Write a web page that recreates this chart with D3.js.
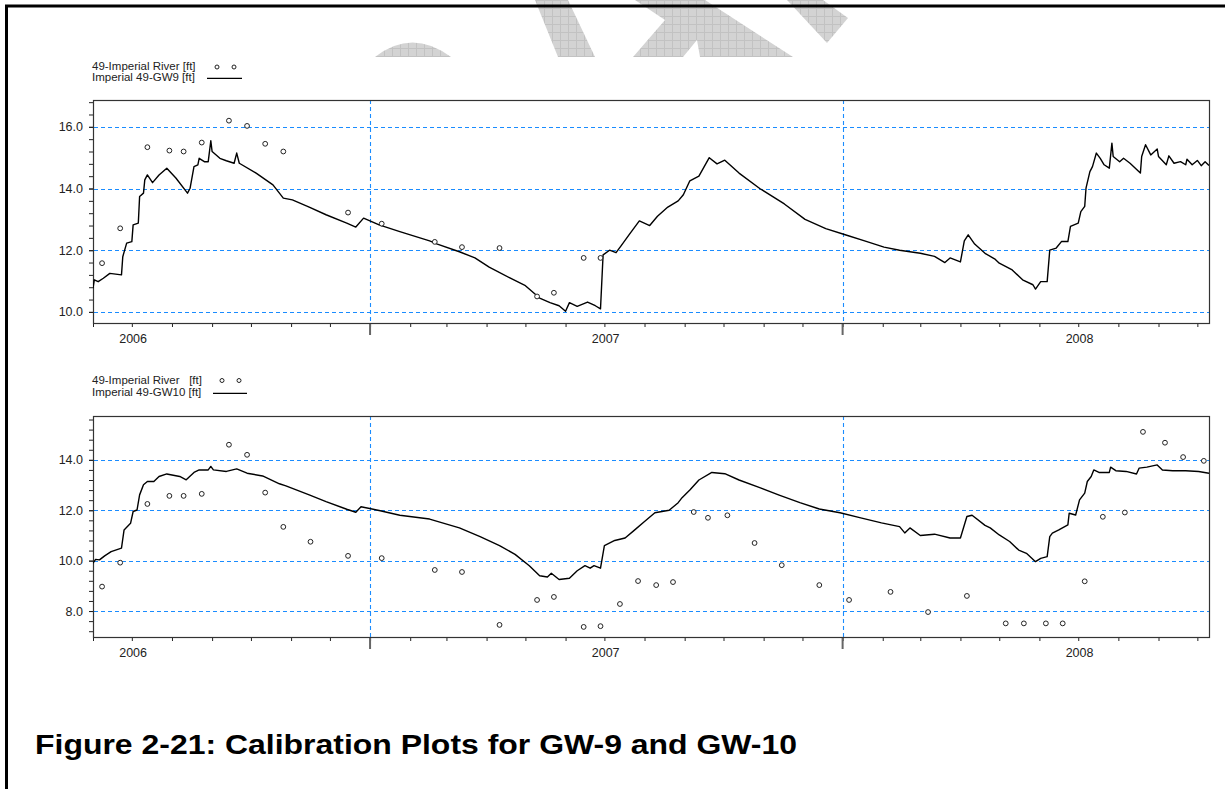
<!DOCTYPE html>
<html>
<head>
<meta charset="utf-8">
<script src="https://cdn.jsdelivr.net/npm/d3@7"></script>
<style>
  body { margin: 0; background: #fff; }
  text { font-family: "Liberation Sans", Arial, sans-serif; }
</style>
</head>
<body>
<div id="chart"></div>
<script>
var parseDate = d3.timeParse("%Y-%m-%d");

// ---- GW9 panel ----
var gw9Dates = ["2006-06-01","2006-06-02","2006-06-05","2006-06-09","2006-06-14","2006-06-23","2006-06-24","2006-06-27",
  "2006-07-01","2006-07-02","2006-07-06","2006-07-07","2006-07-10","2006-07-11","2006-07-13","2006-07-17","2006-07-22","2006-07-28",
  "2006-08-04","2006-08-13","2006-08-15","2006-08-18","2006-08-21","2006-08-22","2006-08-26","2006-08-29","2006-08-31",
  "2006-09-01","2006-09-07","2006-09-12","2006-09-18","2006-09-20","2006-09-22","2006-10-05","2006-10-18","2006-10-26",
  "2006-11-02","2006-11-15","2006-11-28","2006-12-14","2006-12-21","2006-12-27","2007-01-08","2007-01-24","2007-02-16",
  "2007-02-22","2007-03-11","2007-03-23","2007-04-03","2007-04-19","2007-05-01","2007-05-12","2007-05-20","2007-05-27",
  "2007-06-01","2007-06-04","2007-06-10","2007-06-18","2007-06-24","2007-06-28","2007-06-30","2007-07-05","2007-07-10",
  "2007-07-14","2007-07-20","2007-07-28","2007-08-05","2007-08-11","2007-08-19","2007-08-27","2007-08-31","2007-09-05",
  "2007-09-12","2007-09-20","2007-09-26","2007-10-02","2007-10-13","2007-10-29","2007-11-17","2007-12-03","2007-12-19",
  "2008-01-03","2008-01-18","2008-02-02","2008-02-14","2008-03-01","2008-03-12","2008-03-20","2008-03-24","2008-04-01",
  "2008-04-04","2008-04-07","2008-04-12","2008-04-20","2008-04-28","2008-05-01","2008-05-11","2008-05-19","2008-05-27",
  "2008-05-29","2008-06-02","2008-06-07","2008-06-09","2008-06-14","2008-06-18","2008-06-23","2008-06-25","2008-07-01",
  "2008-07-03","2008-07-06","2008-07-07","2008-07-10","2008-07-12","2008-07-15","2008-07-18","2008-07-21","2008-07-25",
  "2008-07-27","2008-07-28","2008-08-02","2008-08-05","2008-08-10","2008-08-18","2008-08-19","2008-08-22","2008-08-26",
  "2008-08-31","2008-09-01","2008-09-07","2008-09-09","2008-09-13","2008-09-18","2008-09-22","2008-09-23","2008-09-27",
  "2008-10-01","2008-10-04","2008-10-07","2008-10-10"];
var gw9Values = [10.77,11.04,10.98,11.09,11.25,11.2,11.79,12.23,
  12.28,12.82,12.88,13.74,13.85,14.28,14.44,14.19,14.44,14.66,
  14.34,13.85,14.01,14.71,14.77,14.98,14.87,14.87,15.55,
  15.2,14.98,14.9,14.82,15.15,14.82,14.5,14.12,13.69,
  13.63,13.4,13.15,12.88,12.75,13.04,12.82,12.6,12.3,
  12.2,11.95,11.75,11.45,11.1,10.85,10.45,10.3,10.2,
  10.02,10.3,10.18,10.32,10.2,10.1,11.85,12.0,11.92,
  12.15,12.5,12.95,12.8,13.1,13.4,13.6,13.8,14.25,
  14.4,15.0,14.8,14.92,14.5,14.0,13.5,13.0,12.7,
  12.5,12.3,12.1,12.0,11.9,11.8,11.6,11.75,11.62,
  12.3,12.5,12.2,11.9,11.7,11.58,11.36,11.04,10.88,
  10.74,10.98,10.98,12.0,12.07,12.28,12.28,12.77,12.88,
  13.25,13.42,14.01,14.55,14.71,15.15,14.98,14.77,14.66,
  15.47,15.04,14.87,14.98,14.82,14.5,15.04,15.42,15.09,
  15.28,15.04,14.77,15.06,14.82,14.87,14.77,14.95,14.77,
  14.91,14.74,14.87,14.75];
var obs9Dates = ["2006-06-08","2006-06-22","2006-07-13","2006-07-30","2006-08-10","2006-08-24","2006-09-14","2006-09-28",
  "2006-10-12","2006-10-26","2006-12-15","2007-01-10","2007-02-20","2007-03-13","2007-04-11","2007-05-10","2007-05-23",
  "2007-06-15","2007-06-28"];
var obs9Values = [11.58,12.71,15.34,15.23,15.2,15.49,16.2,16.03,
  15.45,15.2,13.22,12.86,12.27,12.1,12.07,10.5,10.62,
  11.75,11.75];

// ---- GW10 panel ----
var gw10Dates = ["2006-06-01","2006-06-03","2006-06-06","2006-06-10","2006-06-15","2006-06-23","2006-06-25","2006-06-30",
  "2006-07-02","2006-07-05","2006-07-07","2006-07-10","2006-07-13","2006-07-18","2006-07-22","2006-07-28","2006-08-07",
  "2006-08-12","2006-08-18","2006-08-22","2006-08-29","2006-08-31","2006-09-02","2006-09-12","2006-09-20","2006-09-28",
  "2006-10-10","2006-10-23","2006-10-28","2006-11-15","2006-11-28","2006-12-14","2006-12-21","2006-12-25","2007-01-08",
  "2007-01-24","2007-02-16","2007-03-11","2007-03-27","2007-04-11","2007-04-23","2007-05-04","2007-05-12","2007-05-18",
  "2007-05-21","2007-05-27","2007-06-04","2007-06-10","2007-06-16","2007-06-20","2007-06-23","2007-06-28","2007-07-01",
  "2007-07-09","2007-07-17","2007-07-24","2007-08-01","2007-08-09","2007-08-20","2007-08-27","2007-08-30","2007-09-05",
  "2007-09-12","2007-09-22","2007-10-02","2007-10-13","2007-10-29","2007-11-13","2007-11-29","2007-12-14","2007-12-30",
  "2008-01-15","2008-01-31","2008-02-14","2008-02-18","2008-02-22","2008-03-01","2008-03-12","2008-03-24","2008-04-01",
  "2008-04-06","2008-04-10","2008-04-20","2008-04-24","2008-05-01","2008-05-09","2008-05-16","2008-05-22","2008-05-29",
  "2008-06-02","2008-06-07","2008-06-09","2008-06-11","2008-06-16","2008-06-23","2008-06-24","2008-06-29","2008-07-02",
  "2008-07-06","2008-07-08","2008-07-11","2008-07-13","2008-07-17","2008-07-25","2008-07-26","2008-07-30","2008-08-07",
  "2008-08-15","2008-08-17","2008-08-23","2008-08-31","2008-09-04","2008-09-12","2008-09-22","2008-10-02","2008-10-10"];
var gw10Values = [9.9,10.05,10.03,10.19,10.36,10.5,11.22,11.48,
  11.95,12.01,12.61,13.01,13.14,13.14,13.34,13.44,13.34,
  13.21,13.5,13.6,13.6,13.74,13.6,13.54,13.64,13.47,
  13.36,13.05,12.97,12.61,12.34,12.04,11.92,12.14,11.99,
  11.8,11.65,11.3,10.95,10.6,10.25,9.8,9.4,9.35,
  9.5,9.25,9.3,9.6,9.8,9.7,9.8,9.7,10.6,
  10.8,10.9,11.2,11.55,11.9,12.0,12.3,12.5,12.8,
  13.2,13.5,13.45,13.2,12.9,12.6,12.3,12.05,11.9,
  11.7,11.5,11.35,11.1,11.3,11.0,11.05,10.9,10.9,
  11.75,11.8,11.4,11.3,11.02,10.76,10.42,10.29,9.96,
  10.09,10.16,10.95,11.09,11.22,11.42,11.88,11.81,12.41,
  12.68,13.14,13.34,13.6,13.5,13.5,13.71,13.57,13.54,
  13.44,13.67,13.71,13.8,13.6,13.57,13.57,13.54,13.47];
var obs10Dates = ["2006-06-08","2006-06-22","2006-07-13","2006-07-30","2006-08-10","2006-08-24","2006-09-14","2006-09-28",
  "2006-10-12","2006-10-26","2006-11-16","2006-12-15","2007-01-10","2007-02-20","2007-03-13","2007-04-11","2007-05-10",
  "2007-05-23","2007-06-15","2007-06-28","2007-07-13","2007-07-27","2007-08-10","2007-08-23","2007-09-08","2007-09-19",
  "2007-10-04","2007-10-25","2007-11-15","2007-12-14","2008-01-06","2008-02-07","2008-03-07","2008-04-06","2008-05-06",
  "2008-05-20","2008-06-06","2008-06-19","2008-07-06","2008-07-20","2008-08-06","2008-08-20","2008-09-06","2008-09-20",
  "2008-10-06"];
var obs10Values = [8.97,9.92,12.25,12.57,12.57,12.65,14.6,14.2,
  12.7,11.34,10.75,10.19,10.1,9.63,9.55,7.45,8.44,
  8.56,7.37,7.4,8.28,9.19,9.03,9.15,11.93,11.7,
  11.8,10.7,9.82,9.03,8.44,8.76,7.96,8.6,7.51,
  7.51,7.51,7.51,9.18,11.74,11.91,15.11,14.68,14.11,
  13.96];

var yearLabels = ["2006", "2007", "2008"];
var yTicks9 = [10, 12, 14, 16];
var yTicks10 = [8, 10, 12, 14];

var width = 1225, height = 789;
var svg = d3.select("#chart").append("svg")
  .attr("width", width)
  .attr("height", height);

// watermark fragments along the top edge
var defs = svg.append("defs");
var pat = defs.append("pattern")
  .attr("id", "hatch")
  .attr("patternUnits", "userSpaceOnUse")
  .attr("width", 8).attr("height", 8);
pat.append("rect").attr("width", 8).attr("height", 8).attr("fill", "#d3d3d3");
pat.append("path").attr("d", "M0,0.5H8M0.5,0V8").attr("stroke", "#c2c2c2").attr("stroke-width", 1);

var wm = svg.append("g").attr("fill", "url(#hatch)");
wm.append("path").attr("d", "M375,57 Q412,28 451,57 Z");
wm.append("path").attr("d", "M535,0 L568,0 L595,57 L558,57 Z");
wm.append("path").attr("d", "M635,0 L705,0 L793,57 L700,57 L697,40 L683,57 L633,57 L665,20 Z");
wm.append("path").attr("d", "M787,0 L823,0 L848,18 L827,43 Z");

// page frame
svg.append("line").attr("x1", 6.5).attr("x2", 6.5).attr("y1", 5).attr("y2", height)
  .attr("stroke", "#000").attr("stroke-width", 3);
svg.append("line").attr("x1", 5).attr("x2", width).attr("y1", 6).attr("y2", 6)
  .attr("stroke", "#000").attr("stroke-width", 3);

var xScale = d3.scaleTime()
  .domain([parseDate("2006-06-01"), parseDate("2008-10-10")])
  .range([93, 1209]);

function drawPanel(cfg) {
  var y = d3.scaleLinear().domain(cfg.yDomain).range([cfg.bottom, cfg.top]);
  var g = svg.append("g");
  var clipId = "clip" + cfg.id;
  defs.append("clipPath").attr("id", clipId)
    .append("rect")
    .attr("x", 93).attr("y", cfg.top)
    .attr("width", 1209 - 93).attr("height", cfg.bottom - cfg.top);

  // grid
  g.selectAll(".hgrid").data(cfg.yTicks).enter().append("line")
    .attr("x1", 94).attr("x2", 1209)
    .attr("y1", function(d) { return Math.round(y(d)) + 0.5; })
    .attr("y2", function(d) { return Math.round(y(d)) + 0.5; })
    .attr("stroke", "#1a8cff").attr("stroke-width", 1.1).attr("stroke-dasharray", "4,3");
  var years = [parseDate("2007-01-01"), parseDate("2008-01-01")];
  g.selectAll(".vgrid").data(years).enter().append("line")
    .attr("x1", function(d) { return Math.round(xScale(d)) + 0.5; })
    .attr("x2", function(d) { return Math.round(xScale(d)) + 0.5; })
    .attr("y1", cfg.top).attr("y2", cfg.bottom)
    .attr("stroke", "#1a8cff").attr("stroke-width", 1.1).attr("stroke-dasharray", "4,3");

  // month ticks
  var xAxis = d3.axisBottom(xScale)
    .ticks(d3.timeMonth.every(1))
    .tickSize(4)
    .tickFormat("");
  var ax = g.append("g").attr("transform", "translate(0," + cfg.bottom + ")").call(xAxis);
  ax.select(".domain").remove();
  ax.selectAll("line").attr("stroke", "#222");

  // year ticks
  g.selectAll(".yeartick").data(years).enter().append("line")
    .attr("x1", function(d) { return xScale(d); })
    .attr("x2", function(d) { return xScale(d); })
    .attr("y1", cfg.bottom).attr("y2", cfg.bottom + 12)
    .attr("stroke", "#666").attr("stroke-width", 2);

  // year labels centred on each year
  g.selectAll(".yearlabel").data(yearLabels).enter().append("text")
    .attr("x", function(d) { return xScale(parseDate(d + "-07-02")); })
    .attr("y", cfg.bottom + 20)
    .attr("text-anchor", "middle")
    .attr("font-size", "12.5px")
    .attr("fill", "#222")
    .text(function(d) { return d; });

  // y axis: minor ticks every 0.4, labels every 2
  var minor = d3.range(cfg.yTicks[0] - 2, cfg.yDomain[1] + 0.01, 0.4)
    .filter(function(v) { return v >= cfg.yDomain[0] && v <= cfg.yDomain[1]; });
  var yMinor = d3.axisLeft(y).tickValues(minor).tickSize(4).tickFormat("");
  var ay = g.append("g").attr("transform", "translate(93,0)").call(yMinor);
  ay.select(".domain").remove();
  ay.selectAll("line").attr("stroke", "#222");
  var yMajor = d3.axisLeft(y).tickValues(cfg.yTicks).tickSize(4).tickPadding(6).tickFormat(d3.format(".1f"));
  var ay2 = g.append("g").attr("transform", "translate(93,0)").call(yMajor);
  ay2.select(".domain").remove();
  ay2.selectAll("line").attr("stroke", "#222");
  ay2.selectAll("text").attr("font-size", "12.5px").attr("fill", "#222")
    .attr("font-family", "Liberation Sans, Arial, sans-serif");

  // frame
  g.append("rect")
    .attr("x", 93.5).attr("y", cfg.top + 0.5)
    .attr("width", 1209 - 93).attr("height", cfg.bottom - cfg.top)
    .attr("fill", "none").attr("stroke", "#333").attr("stroke-width", 1.2);

  // simulated line
  var pts = cfg.lineDates.map(function(d, i) { return [parseDate(d), cfg.lineValues[i]]; });
  var line = d3.line()
    .x(function(d) { return xScale(d[0]); })
    .y(function(d) { return y(d[1]); });
  g.append("path")
    .datum(pts)
    .attr("clip-path", "url(#" + clipId + ")")
    .attr("d", line)
    .attr("fill", "none")
    .attr("stroke", "#000")
    .attr("stroke-width", 1.4)
    .attr("stroke-linejoin", "round");

  // observed points
  g.selectAll(".obs").data(cfg.obsDates).enter().append("circle")
    .attr("cx", function(d) { return xScale(parseDate(d)); })
    .attr("cy", function(d, i) { return y(cfg.obsValues[i]); })
    .attr("r", 2.4)
    .attr("fill", "#fff")
    .attr("stroke", "#222")
    .attr("stroke-width", 1);

  // legend
  var lg = g.append("g").attr("font-size", "11.5px").attr("fill", "#222");
  lg.append("text").attr("x", 92).attr("y", cfg.legendY).attr("xml:space", "preserve").text(cfg.obsLabel);
  lg.append("text").attr("x", 92).attr("y", cfg.legendY + 11.5).text(cfg.lineLabel);
  cfg.legendDots.forEach(function(cx) {
    lg.append("circle").attr("cx", cx).attr("cy", cfg.legendDotY).attr("r", 2)
      .attr("fill", "none").attr("stroke", "#222").attr("stroke-width", 1);
  });
  lg.append("line")
    .attr("x1", cfg.legendLine[0]).attr("x2", cfg.legendLine[1])
    .attr("y1", cfg.legendLineY).attr("y2", cfg.legendLineY)
    .attr("stroke", "#000").attr("stroke-width", 1.2);
}

drawPanel({
  id: "gw9", top: 100, bottom: 323, yDomain: [9.64, 16.87], yTicks: yTicks9,
  lineDates: gw9Dates, lineValues: gw9Values, obsDates: obs9Dates, obsValues: obs9Values,
  obsLabel: "49-Imperial River [ft]", lineLabel: "Imperial 49-GW9 [ft]",
  legendY: 69.5, legendDotY: 67, legendLineY: 78.3, legendDots: [217, 234], legendLine: [207, 242]
});

drawPanel({
  id: "gw10", top: 416, bottom: 637, yDomain: [6.97, 15.74], yTicks: yTicks10,
  lineDates: gw10Dates, lineValues: gw10Values, obsDates: obs10Dates, obsValues: obs10Values,
  obsLabel: "49-Imperial River   [ft]", lineLabel: "Imperial 49-GW10 [ft]",
  legendY: 384, legendDotY: 380.5, legendLineY: 393.3, legendDots: [222, 239], legendLine: [213, 247]
});

svg.append("text")
  .attr("x", 35)
  .attr("y", 754)
  .attr("font-size", "28px")
  .attr("font-weight", "bold")
  .attr("fill", "#000")
  .attr("textLength", 762)
  .attr("lengthAdjust", "spacingAndGlyphs")
  .text("Figure 2-21: Calibration Plots for GW-9 and GW-10");
</script>
</body>
</html>
